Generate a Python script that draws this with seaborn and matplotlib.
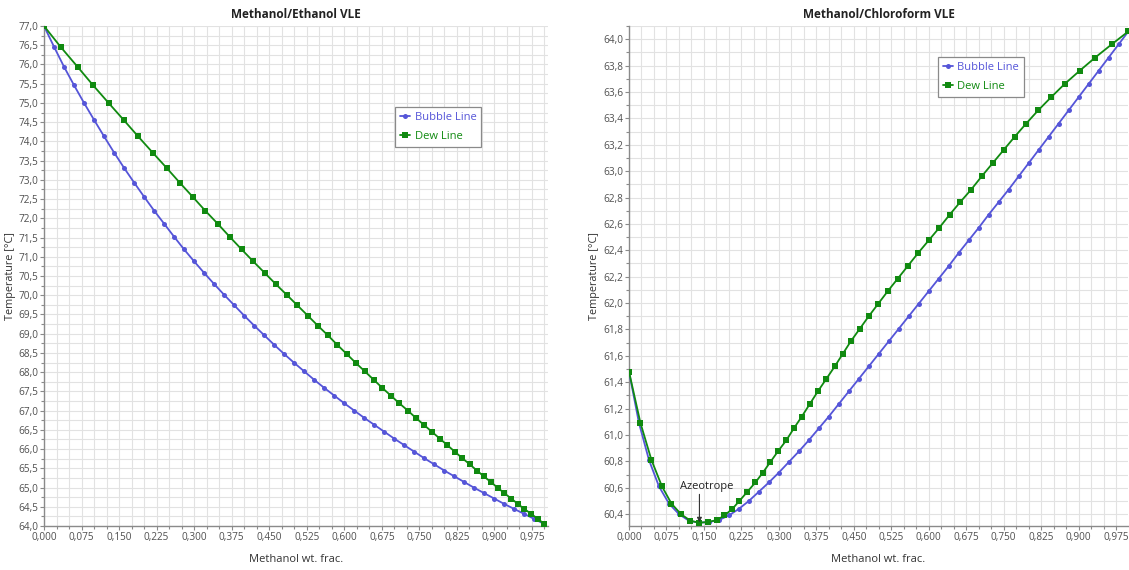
import matplotlib
matplotlib.use("Agg")
import matplotlib.pyplot as plt
from matplotlib.ticker import MultipleLocator, FuncFormatter
from matplotlib.lines import Line2D
import seaborn as sns
import pandas as pd

# ---------------- data: Methanol / Ethanol ----------------
me_bubble_x = [0.00, 0.02, 0.04, 0.06, 0.08, 0.10, 0.12, 0.14, 0.16, 0.18,
               0.20, 0.22, 0.24, 0.26, 0.28, 0.30, 0.32, 0.34, 0.36, 0.38,
               0.40, 0.42, 0.44, 0.46, 0.48, 0.50, 0.52, 0.54, 0.56, 0.58,
               0.60, 0.62, 0.64, 0.66, 0.68, 0.70, 0.72, 0.74, 0.76, 0.78,
               0.80, 0.82, 0.84, 0.86, 0.88, 0.90, 0.92, 0.94, 0.96, 0.98, 1.00]
me_temp = [77.00, 76.46, 75.94, 75.46, 75.00, 74.56, 74.13, 73.71, 73.31, 72.93,
           72.56, 72.20, 71.86, 71.52, 71.19, 70.88, 70.58, 70.29, 70.01, 69.74,
           69.47, 69.21, 68.96, 68.71, 68.47, 68.24, 68.02, 67.80, 67.59, 67.39,
           67.19, 67.00, 66.81, 66.63, 66.45, 66.27, 66.10, 65.93, 65.76, 65.60,
           65.44, 65.29, 65.14, 64.99, 64.85, 64.71, 64.57, 64.44, 64.31, 64.18, 64.05]
me_dew_x = [0.000, 0.033, 0.067, 0.098, 0.129, 0.159, 0.188, 0.217, 0.245, 0.271,
            0.297, 0.322, 0.347, 0.371, 0.395, 0.418, 0.441, 0.463, 0.485, 0.506,
            0.527, 0.547, 0.567, 0.586, 0.605, 0.623, 0.641, 0.659, 0.676, 0.693,
            0.710, 0.727, 0.743, 0.759, 0.775, 0.791, 0.806, 0.821, 0.836, 0.851,
            0.865, 0.879, 0.893, 0.907, 0.920, 0.934, 0.947, 0.960, 0.974, 0.987, 1.000]

# ---------------- data: Methanol / Chloroform ----------------
mc_bubble_x = list(me_bubble_x)
mc_temp = [61.48, 61.09, 60.81, 60.61, 60.48, 60.40, 60.35, 60.335, 60.34, 60.355,
           60.39, 60.44, 60.50, 60.57, 60.64, 60.715, 60.795, 60.875, 60.96, 61.05,
           61.14, 61.235, 61.33, 61.425, 61.52, 61.615, 61.71, 61.805, 61.90, 61.995,
           62.09, 62.185, 62.28, 62.38, 62.475, 62.57, 62.67, 62.765, 62.86, 62.96,
           63.06, 63.16, 63.26, 63.36, 63.46, 63.56, 63.66, 63.76, 63.86, 63.96, 64.06]
mc_dew_x = [0.000, 0.023, 0.045, 0.066, 0.085, 0.104, 0.123, 0.140, 0.158, 0.176,
            0.191, 0.207, 0.221, 0.237, 0.253, 0.268, 0.283, 0.298, 0.315, 0.330,
            0.346, 0.362, 0.378, 0.395, 0.412, 0.428, 0.444, 0.462, 0.480, 0.499,
            0.518, 0.538, 0.558, 0.579, 0.600, 0.621, 0.642, 0.663, 0.685, 0.706,
            0.728, 0.750, 0.772, 0.795, 0.819, 0.845, 0.872, 0.902, 0.933, 0.966, 1.000]

titles = ["Methanol/Ethanol VLE", "Methanol/Chloroform VLE"]
series_names = ["Bubble Line", "Dew Line"]
x_label = "Methanol wt. frac."
y_label = "Temperature [°C]"
azeo_label = "Azeotrope"
azeo_x = 0.141
azeo_T = 60.337

BLUE = "#5555d8"
GREEN = "#108a10"

sns.set_theme(style="white")
plt.rcParams["font.family"] = ["Open Sans", "DejaVu Sans"]

fig = plt.figure(figsize=(11.29, 5.70), dpi=100)
ax1 = fig.add_axes([44 / 1129, 1 - 526 / 570, (548 - 44) / 1129, 500 / 570])
ax2 = fig.add_axes([629 / 1129, 1 - 526 / 570, (1128 - 629) / 1129, 500 / 570])


def build(bx, t, dx):
    rows = []
    for xv, tv in zip(bx, t):
        rows.append({"x": xv, "T": tv, "series": series_names[0]})
    for xv, tv in zip(dx, t):
        rows.append({"x": xv, "T": tv, "series": series_names[1]})
    return pd.DataFrame(rows)


def draw(ax, df, title, ylim, xlim, ymaj, ymin, legend_xy, ylab_x):
    sub_b = df[df.series == series_names[0]]
    sub_d = df[df.series == series_names[1]]
    sns.lineplot(data=sub_b, x="x", y="T", ax=ax, sort=False, estimator=None,
                 color=BLUE, lw=1.3, marker="o", markersize=3.6,
                 markeredgewidth=0, zorder=4)
    sns.lineplot(data=sub_d, x="x", y="T", ax=ax, sort=False, estimator=None,
                 color=GREEN, lw=1.3, marker="s", markersize=4.0,
                 markeredgewidth=0, zorder=5)
    ax.set_xlim(*xlim)
    ax.set_ylim(*ylim)
    ax.xaxis.set_major_locator(MultipleLocator(0.075))
    ax.xaxis.set_minor_locator(MultipleLocator(0.025))
    ax.yaxis.set_major_locator(MultipleLocator(ymaj))
    ax.yaxis.set_minor_locator(MultipleLocator(ymin))
    ax.xaxis.set_major_formatter(FuncFormatter(lambda v, p: f"{v:.3f}".replace(".", ",")))
    ax.yaxis.set_major_formatter(FuncFormatter(lambda v, p: f"{v:.1f}".replace(".", ",")))
    ax.grid(True, which="both", color="#e2e2e2", lw=0.8)
    ax.set_axisbelow(True)
    for s in ["top", "right"]:
        ax.spines[s].set_visible(False)
    for s in ["left", "bottom"]:
        ax.spines[s].set_color("#8a8a8a")
        ax.spines[s].set_linewidth(1.0)
    ax.tick_params(which="both", direction="out", length=3, width=0.8,
                   color="#8a8a8a", labelsize=7.2, labelcolor="#505050", pad=1.0,
                   bottom=True, left=True)
    ax.tick_params(which="minor", length=2.5)
    ax.set_title(title, fontsize=8.5, fontweight="bold", color="#222222", pad=6)
    ax.set_xlabel(x_label, fontsize=8, color="#333333")
    ax.set_ylabel(y_label, fontsize=7.8, color="#333333")
    ax.xaxis.set_label_coords(0.5, -28 / 500)
    ax.yaxis.set_label_coords(ylab_x, 0.5)
    handles = [Line2D([0], [0], color=BLUE, lw=1.3, marker="o", markersize=3.6, markeredgewidth=0),
               Line2D([0], [0], color=GREEN, lw=1.3, marker="s", markersize=4.0, markeredgewidth=0)]
    leg = ax.legend(handles, series_names, loc="upper left", bbox_to_anchor=legend_xy,
                    fontsize=8, frameon=True, fancybox=False, framealpha=1,
                    edgecolor="#8a8a8a", handlelength=0.9, handletextpad=0.4,
                    borderpad=0.45, labelspacing=0.7, borderaxespad=0)
    leg.get_frame().set_linewidth(0.9)
    for txt, c in zip(leg.get_texts(), [BLUE, GREEN]):
        txt.set_color(c)


df1 = build(me_bubble_x, me_temp, me_dew_x)
df2 = build(mc_bubble_x, mc_temp, mc_dew_x)

draw(ax1, df1, titles[0], (64.0, 77.0), (0.0, 1.007), 0.5, 0.25, (0.697, 0.838), -28 / 504)
draw(ax2, df2, titles[1], (60.31, 64.1), (0.0, 0.999), 0.2, 0.1, (0.619, 0.938), -29 / 499)

ax2.text(0.155, 60.61, azeo_label, ha="center", va="center", fontsize=8,
         color="#222222", zorder=6)
ax2.annotate("", xy=(azeo_x, azeo_T), xytext=(azeo_x, 60.55),
             arrowprops=dict(arrowstyle="-|>", color="#333333", lw=0.8,
                             mutation_scale=7, shrinkA=0, shrinkB=0), zorder=6)

fig.savefig("out.png", dpi=100)
